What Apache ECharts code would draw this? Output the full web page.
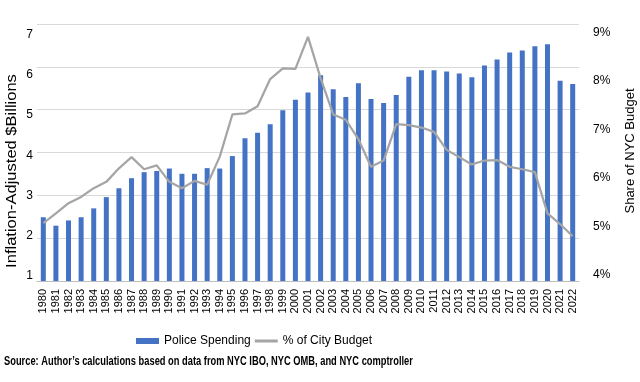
<!DOCTYPE html>
<html>
<head>
<meta charset="utf-8">
<script src="https://cdn.jsdelivr.net/npm/echarts@6/dist/echarts.min.js"></script>
<style>
html,body{margin:0;padding:0;background:#fff;}
#chart{width:640px;height:382px;}
</style>
</head>
<body>
<div id="chart"></div>
<script>
var years = ['1980','1981','1982','1983','1984','1985','1986','1987','1988','1989','1990','1991','1992','1993','1994','1995','1996','1997','1998','1999','2000','2001','2002','2003','2004','2005','2006','2007','2008','2009','2010','2011','2012','2013','2014','2015','2016','2017','2018','2019','2020','2021','2022'];
var policeSpending = [2.46,2.25,2.38,2.46,2.68,2.96,3.18,3.43,3.58,3.61,3.67,3.54,3.54,3.68,3.67,3.98,4.42,4.56,4.77,5.12,5.38,5.56,5.99,5.64,5.45,5.79,5.40,5.30,5.50,5.95,6.11,6.11,6.08,6.03,5.94,6.23,6.38,6.55,6.60,6.71,6.76,5.85,5.77];
var shareOfBudget = [5.07,5.27,5.48,5.61,5.79,5.92,6.20,6.43,6.18,6.26,5.92,5.79,5.94,5.86,6.44,7.31,7.33,7.48,8.04,8.26,8.25,8.91,8.06,7.31,7.20,6.80,6.23,6.36,7.11,7.09,7.04,6.95,6.58,6.43,6.28,6.36,6.37,6.23,6.18,6.12,5.27,5.05,4.80];
var leftTicks = [1,2,3,4,5,6,7];
var rightTicks = [4,5,6,7,8,9];

var chart = echarts.init(document.getElementById('chart'), null, {renderer:'canvas'});
var font = 'Liberation Sans, Arial, sans-serif';
chart.setOption({
  animation: false,
  backgroundColor: '#ffffff',
  textStyle: {fontFamily: font},
  grid: {left: 37, right: 61, top: 24, bottom: 101, containLabel: false},
  legend: {
    left: 131, top: 330,
    itemGap: 4, itemWidth: 23, itemHeight: 6,
    textStyle: {fontFamily: font, fontSize: 12, color: '#000'},
    data: [
      {name: 'Police Spending', icon: 'rect'},
      {name: '% of City Budget', icon: 'path://M0,0 L23,0 L23,3 L0,3 Z', itemStyle: {color: '#A5A5A5'}}
    ]
  },
  graphic: [
    {type: 'text', x: 12.5, y: 171, rotation: Math.PI / 2, scaleX: 1.18,
     style: {text: 'Inflation-Adjusted $Billions', fontFamily: font, fontSize: 14, fill: '#000', textAlign: 'center', textVerticalAlign: 'middle'}},
    {type: 'text', x: 630, y: 151, rotation: Math.PI / 2,
     style: {text: 'Share of NYC Budget', fontFamily: font, fontSize: 13, fill: '#000', textAlign: 'center', textVerticalAlign: 'middle'}},
    {type: 'text', x: 4, y: 362, scaleX: 0.81, scaleY: 1.08,
     style: {text: 'Source: Author\u2019s calculations based on data from NYC IBO, NYC OMB, and NYC comptroller', fontFamily: font, fontWeight: 'bold', fontSize: 11.5, fill: '#000', textAlign: 'left', textVerticalAlign: 'middle'}}
  ],
  xAxis: {
    type: 'category', data: years, boundaryGap: true,
    axisLine: {show: true, lineStyle: {color: '#bfbfbf', width: 1}},
    axisTick: {show: false},
    axisLabel: {rotate: 90, interval: 0, fontSize: 11, color: '#000', margin: 8, fontFamily: font}
  },
  yAxis: [
    {type: 'value', position: 'left', min: 0.876, max: 7.261,
     axisLine: {show: false}, axisTick: {show: false}, splitLine: {show: false},
     axisLabel: {customValues: leftTicks, fontSize: 12, color: '#000', margin: 4, fontFamily: font}},
    {type: 'value', position: 'right', min: 3.876, max: 9.175,
     axisLine: {show: false}, axisTick: {show: false}, splitLine: {show: false},
     axisLabel: {customValues: rightTicks, formatter: '{value}%', fontSize: 12, color: '#000', margin: 14, fontFamily: font}},
    {type: 'value', position: 'left', min: 0, max: 6, interval: 1,
     axisLine: {show: false}, axisTick: {show: false}, axisLabel: {show: false},
     splitLine: {show: true, lineStyle: {color: '#d9d9d9', width: 1}}}
  ],
  series: [
    {name: 'Police Spending', type: 'bar', yAxisIndex: 0, data: policeSpending,
     barWidth: 5, itemStyle: {color: '#4472C4'}},
    {name: '% of City Budget', type: 'line', yAxisIndex: 1, data: shareOfBudget,
     symbol: 'none', lineStyle: {color: '#A5A5A5', width: 2.25}, itemStyle: {color: '#A5A5A5'}}
  ]
});
</script>
</body>
</html>
